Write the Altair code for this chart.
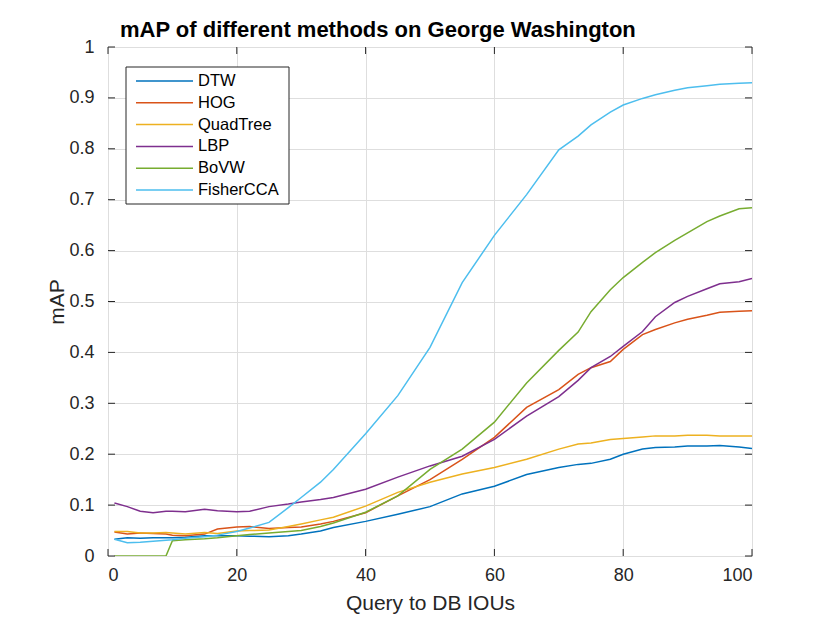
import altair as alt
import pandas as pd

x_vals = [1, 3, 5, 7, 9, 10, 12, 15, 17, 20, 22, 25, 28, 30, 33, 35, 40, 45, 50, 55,
          60, 65, 70, 73, 75, 78, 80, 83, 85, 88, 90, 93, 95, 98, 100]

dtw = [.033, .036, .035, .036, .036, .036, .037, .040, .040, .040, .039, .038, .040, .043, .049, .056,
       .068, .082, .097, .122, .137, .160, .174, .180, .182, .190, .200, .210, .213, .214, .216, .216,
       .217, .214, .211]
hog = [.047, .043, .045, .044, .043, .041, .040, .043, .053, .057, .058, .054, .056, .057, .063, .068,
       .085, .118, .150, .190, .233, .292, .327, .357, .370, .382, .406, .435, .445, .458, .465, .473,
       .479, .481, .482]
quadtree = [.048, .048, .045, .045, .046, .045, .043, .046, .044, .049, .050, .051, .058, .063, .071, .076,
            .098, .125, .145, .161, .174, .190, .210, .220, .222, .229, .231, .234, .236, .236, .237, .237,
            .236, .236, .236]
lbp = [.104, .097, .088, .085, .088, .088, .087, .092, .089, .087, .088, .097, .102, .106, .111, .115,
       .131, .155, .177, .196, .229, .275, .313, .345, .370, .392, .412, .441, .470, .498, .510, .525,
       .535, .539, .545]
bovw = [0, 0, 0, 0, 0, .030, .032, .034, .036, .040, .042, .045, .048, .050, .058, .065,
        .086, .118, .170, .210, .263, .340, .404, .440, .480, .523, .547, .577, .596, .620, .635, .657,
        .668, .682, .684]
fishercca = [.033, .026, .027, .029, .031, .032, .035, .038, .041, .048, .055, .066, .095, .115, .145, .170,
             .240, .315, .410, .537, .630, .710, .798, .825, .847, .872, .886, .899, .906, .915, .920, .924,
             .927, .929, .930]

names = ["DTW", "HOG", "QuadTree", "LBP", "BoVW", "FisherCCA"]
colors = ["#0072BD", "#D95319", "#EDB120", "#7E2F8E", "#77AC30", "#4DBEEE"]
series_vals = [dtw, hog, quadtree, lbp, bovw, fishercca]

x_ticks = [0, 20, 40, 60, 80, 100]
y_ticks = [0, 0.1, 0.2, 0.3, 0.4, 0.5, 0.6, 0.7, 0.8, 0.9, 1]

rows = []
for n, vals in zip(names, series_vals):
    for xv, yv in zip(x_vals, vals):
        rows.append({"series": n, "x": xv, "y": yv})
df = pd.DataFrame(rows)

W, H = 644, 509
FONT = "Liberation Sans"
AX = "#262626"

color_scale = alt.Scale(domain=names, range=colors)
xs = alt.Scale(domain=[0, 100], nice=False)
ys = alt.Scale(domain=[0, 1], nice=False)

lines = alt.Chart(df).mark_line(strokeWidth=1.5, clip=True).encode(
    x=alt.X("x:Q", scale=xs, title="Query to DB IOUs",
            axis=alt.Axis(values=x_ticks, grid=True, ticks=False, domain=False,
                          labelFontSize=18, labelFont=FONT, labelColor=AX, labelPadding=10,
                          titleFontSize=21, titleFont=FONT, titleFontWeight="normal",
                          titleColor=AX, titlePadding=8, gridColor="#dedede")),
    y=alt.Y("y:Q", scale=ys, title="mAP",
            axis=alt.Axis(values=y_ticks, grid=True, ticks=False, domain=False,
                          labelFontSize=18, labelFont=FONT, labelColor=AX, labelPadding=14,
                          titleFontSize=21, titleFont=FONT, titleFontWeight="normal",
                          titleColor=AX, titlePadding=1, gridColor="#dedede",
                          labelExpr="datum.value == 0 ? '0' : datum.value == 1 ? '1' : format(datum.value, '.1f')")),
    color=alt.Color("series:N", scale=color_scale, legend=None),
    detail="series:N",
)

xt = pd.DataFrame({"v": x_ticks})
yt = pd.DataFrame({"v": y_ticks})
xtick_b = alt.Chart(xt).mark_rule(color=AX, strokeWidth=1).encode(
    x=alt.X("v:Q", scale=xs), y=alt.value(H), y2=alt.value(H - 7))
xtick_t = alt.Chart(xt).mark_rule(color=AX, strokeWidth=1).encode(
    x=alt.X("v:Q", scale=xs), y=alt.value(0), y2=alt.value(7))
ytick_l = alt.Chart(yt).mark_rule(color=AX, strokeWidth=1).encode(
    y=alt.Y("v:Q", scale=ys), x=alt.value(0), x2=alt.value(7))
ytick_r = alt.Chart(yt).mark_rule(color=AX, strokeWidth=1).encode(
    y=alt.Y("v:Q", scale=ys), x=alt.value(W), x2=alt.value(W - 7))

main = alt.layer(lines, xtick_b, xtick_t, ytick_l, ytick_r)

leg_df = pd.DataFrame({"series": names})
leg_y = alt.Y("series:N", scale=alt.Scale(type="point", domain=names, range=[34, 143], padding=0), axis=None)
box = alt.Chart(pd.DataFrame({"a": [0]})).mark_rect(fill="white", stroke=AX, strokeWidth=1).encode(
    x=alt.value(18), x2=alt.value(181), y=alt.value(20), y2=alt.value(157))
leg_rules = alt.Chart(leg_df).mark_rule(strokeWidth=1.5).encode(
    x=alt.value(28), x2=alt.value(85), y=leg_y,
    color=alt.Color("series:N", scale=color_scale, legend=None))
leg_text = alt.Chart(leg_df).mark_text(align="left", baseline="middle", fontSize=16.5, font=FONT,
                                       color="black").encode(
    x=alt.value(90), y=leg_y, text="series:N")
legend = alt.layer(box, leg_rules, leg_text)

chart = alt.layer(main, legend).resolve_scale(y="independent").properties(
    width=W, height=H,
    title=alt.TitleParams("mAP of different methods on George Washington", anchor="start", dx=12,
                          frame="group", fontSize=22, font=FONT, fontWeight="bold", color="black",
                          offset=-4),
    autosize=alt.AutoSizeParams(type="none"),
    padding={"left": 100, "top": 39, "right": 70, "bottom": 58},
).configure_view(stroke=AX, strokeWidth=1).configure(background="white")

chart.save("out.html", embed_options={"renderer": "svg", "actions": False})
